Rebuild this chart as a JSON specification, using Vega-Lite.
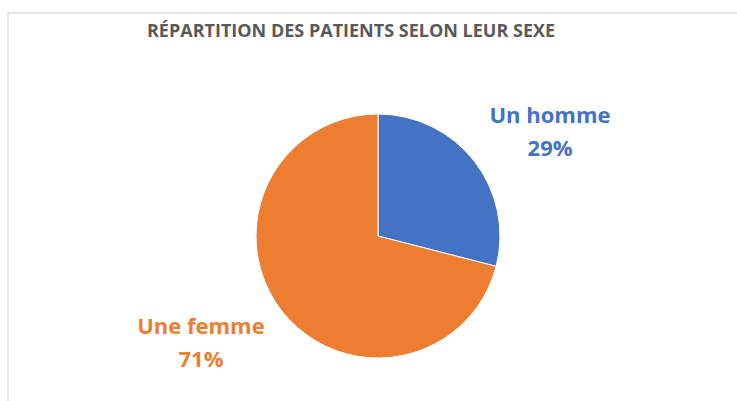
{
  "$schema": "https://vega.github.io/schema/vega-lite/v6.json",
  "width": 737,
  "height": 401,
  "autosize": {"type": "fit", "contains": "padding"},
  "padding": {"left": 8, "top": 13, "right": -11, "bottom": -58},
  "background": "white",
  "view": {"stroke": "#d9d9d9", "strokeWidth": 1.5, "fill": "white"},
  "config": {
    "font": "Open Sans"
  },
  "title": {
    "text": "RÉPARTITION DES PATIENTS SELON LEUR SEXE",
    "font": "Open Sans",
    "fontSize": 18,
    "fontWeight": "bold",
    "color": "#595959",
    "anchor": "middle",
    "offset": -28,
    "dx": -27
  },
  "data": {
    "values": [
      {"sexe": "Un homme", "pct": 29},
      {"sexe": "Une femme", "pct": 71}
    ]
  },
  "transform": [
    {"calculate": "[datum.sexe, datum.pct + '%']", "as": "label"}
  ],
  "encoding": {
    "theta": {"field": "pct", "type": "quantitative", "stack": true},
    "color": {
      "field": "sexe",
      "type": "nominal",
      "scale": {"domain": ["Un homme", "Une femme"], "range": ["#4472C4", "#ED7D31"]},
      "legend": null
    },
    "order": {"field": "sexe", "sort": "ascending"}
  },
  "layer": [
    {
      "mark": {"type": "arc", "outerRadius": 122, "stroke": "white", "strokeWidth": 1}
    },
    {
      "mark": {"type": "text", "radius": 200, "fontSize": 22, "fontWeight": "bold", "font": "Open Sans", "lineHeight": 33, "dx": 14, "dy": 3, "baseline": "middle", "align": "center"},
      "encoding": {
        "text": {"field": "label"},
        "opacity": {"condition": {"test": "datum.sexe === 'Un homme'", "value": 1}, "value": 0}
      }
    },
    {
      "mark": {"type": "text", "radius": 200, "fontSize": 22, "fontWeight": "bold", "font": "Open Sans", "lineHeight": 33, "dx": -19, "dy": -32, "baseline": "middle", "align": "center"},
      "encoding": {
        "text": {"field": "label"},
        "opacity": {"condition": {"test": "datum.sexe === 'Une femme'", "value": 1}, "value": 0}
      }
    }
  ]
}
